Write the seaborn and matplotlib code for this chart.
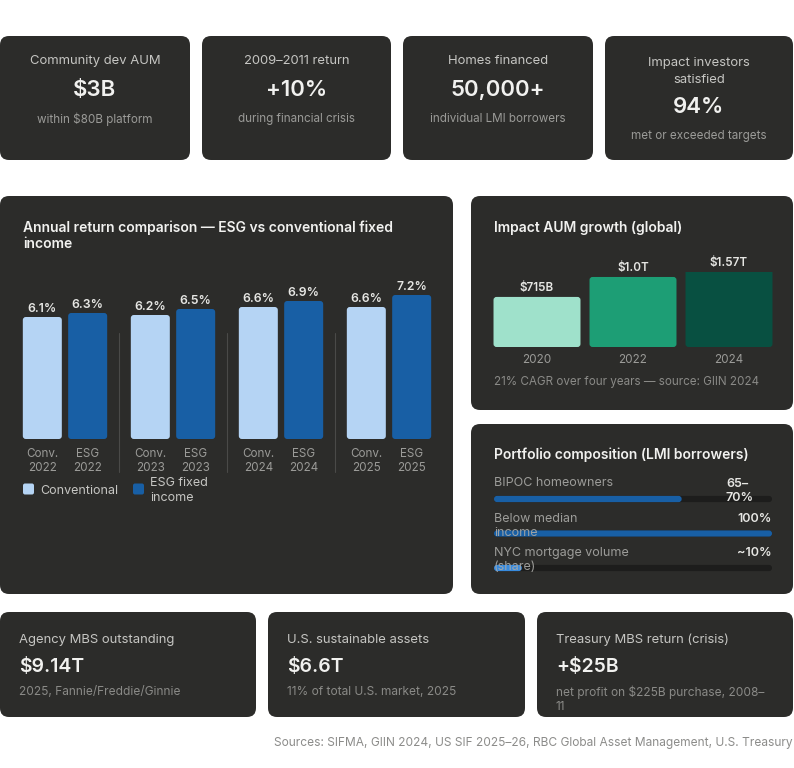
import pandas as pd
import seaborn as sns
import matplotlib.pyplot as plt
from matplotlib.patches import FancyBboxPatch
from matplotlib.transforms import IdentityTransform

# KPI cards (top row)
kpi_labels = ["Community dev AUM", "2009–2011 return", "Homes financed", "Impact investors\nsatisfied"]
kpi_values = ["$3B", "+10%", "50,000+", "94%"]
kpi_subs = ["within $80B platform", "during financial crisis", "individual LMI borrowers", "met or exceeded targets"]

# annual returns, ESG vs conventional (%)
return_years = ["2022", "2023", "2024", "2025"]
conv_returns = [6.1, 6.2, 6.6, 6.6]
esg_returns = [6.3, 6.5, 6.9, 7.2]
series_names = ["Conventional", "ESG fixed\nincome"]

# impact AUM growth ($B)
aum_years = ["2020", "2022", "2024"]
aum_values = [715, 1000, 1570]
aum_labels = ["$715B", "$1.0T", "$1.57T"]

# portfolio composition (% share)
comp_labels = ["BIPOC homeowners", "Below median\nincome", "NYC mortgage volume\n(share)"]
comp_share = [67.5, 100, 10]
comp_values = ["65–\n70%", "100%", "~10%"]

# bottom stat cards
stat_labels = ["Agency MBS outstanding", "U.S. sustainable assets", "Treasury MBS return (crisis)"]
stat_values = ["$9.14T", "$6.6T", "+$25B"]
stat_subs = ["2025, Fannie/Freddie/Ginnie", "11% of total U.S. market, 2025",
             "net profit on $225B purchase, 2008–\n11"]

sns.set_theme(style="white")
plt.rcParams['font.family'] = ['Inter', 'DejaVu Sans']

W, H = 794, 768
CARD = "#2c2c2a"
WHITE = "#f1f1ef"
LIGHT = "#c6c6c3"
GRAY = "#9b9b98"
DIM = "#8a8a87"

fig = plt.figure(figsize=(W / 100, H / 100), dpi=100)
fig.patch.set_facecolor("white")


def card(x0, y0, x1, y1):
    fig.patches.append(FancyBboxPatch((x0, H - y1), x1 - x0, y1 - y0,
                                      boxstyle="round,pad=0,rounding_size=9",
                                      fc=CARD, ec="none", transform=IdentityTransform(),
                                      figure=fig, zorder=-5))


def txt(x, y, s, **kw):
    kw.setdefault("va", "center")
    return fig.text(x / W, 1 - y / H, s, **kw)


def axes(x0, y0, x1, y1):
    ax = fig.add_axes([x0 / W, 1 - y1 / H, (x1 - x0) / W, (y1 - y0) / H])
    ax.set_facecolor("none")
    for s in ax.spines.values():
        s.set_visible(False)
    return ax


def round_bars(ax, rpx):
    # swap plain rectangles for rounded ones (corner radius in pixels)
    o = ax.transData.transform((0, 0))
    sx = abs(ax.transData.transform((1, 0))[0] - o[0])
    sy = abs(ax.transData.transform((0, 1))[1] - o[1])
    for p in list(ax.patches):
        x, y, w, h = p.get_x(), p.get_y(), p.get_width(), p.get_height()
        if w < 0:
            x, w = x + w, -w
        if h < 0:
            y, h = y + h, -h
        r = min(rpx, w * sx / 2, h * sy / 2) / sx
        ax.add_patch(FancyBboxPatch((x, y), w, h, boxstyle=f"round,pad=0,rounding_size={r}",
                                    mutation_aspect=sx / sy, fc=p.get_facecolor(),
                                    ec="none", lw=0, zorder=p.get_zorder()))
        p.remove()


# ---- top KPI cards
top_x = [(0, 190), (202, 391), (403, 593), (605, 793)]
for (x0, x1), lab, val, sub in zip(top_x, kpi_labels, kpi_values, kpi_subs):
    card(x0, 36, x1, 160)
    cx = (x0 + x1) / 2
    n = lab.count("\n")
    txt(cx, 61 + n * 10.5, lab, ha="center", color=LIGHT, fontsize=9.4, linespacing=1.55)
    txt(cx, 90 + n * 17, val, ha="center", color=WHITE, fontsize=16, fontweight="semibold")
    txt(cx, 119 + n * 17, sub, ha="center", color=GRAY, fontsize=8.4)

# ---- annual return comparison
card(0, 196, 453, 594)
txt(23, 236, "Annual return comparison — ESG vs conventional fixed\nincome",
    color=WHITE, fontsize=10, fontweight="semibold", linespacing=1.15)

df = pd.DataFrame({"year": return_years * 2,
                   "series": [series_names[0]] * 4 + [series_names[1]] * 4,
                   "ret": conv_returns + esg_returns})
ax1 = axes(11, 279, 443, 439)
conv_c, esg_c = "#b5d4f4", "#185fa5"
sns.barplot(data=df, x="year", y="ret", hue="series", palette=[conv_c, esg_c],
            width=0.84, gap=0.14, saturation=1, legend=False, linewidth=0,
            edgecolor="none", ax=ax1)
ax1.set_ylim(0, 8)
ax1.set_xlim(-0.5, 3.5)
for cont in ax1.containers:
    ax1.bar_label(cont, fmt="%.1f%%", padding=1.5, color="#e6e6e3", fontsize=8.8,
                  fontweight="semibold")
round_bars(ax1, 3)
ticks, tlabels = [], []
for i, yr in enumerate(return_years):
    ticks += [i - 0.21, i + 0.21]
    tlabels += [f"Conv.\n{yr}", f"ESG\n{yr}"]
ax1.set_xticks(ticks, tlabels)
ax1.set_yticks([])
ax1.set_xlabel("")
ax1.set_ylabel("")
ax1.tick_params(axis="x", length=0, pad=6.5, labelsize=8.4, labelcolor=GRAY)
for b in [0.5, 1.5, 2.5]:
    ax1.axvline(b, ymin=-0.206, ymax=0.66, color="#4a4a48", lw=0.8, clip_on=False)

# legend
for (sx, tx), name, col in zip([(23, 40), (133, 150)], series_names, [conv_c, esg_c]):
    fig.patches.append(FancyBboxPatch((sx, H - 494.5), 11, 11, boxstyle="round,pad=0,rounding_size=2",
                                      fc=col, ec="none", transform=IdentityTransform(), figure=fig))
    txt(tx, 490.5, name, color=LIGHT, fontsize=9, linespacing=1.25)

# ---- impact AUM growth
card(471, 196, 793, 410)
txt(494, 228, "Impact AUM growth (global)", color=WHITE, fontsize=10, fontweight="semibold")
ax2 = axes(489, 272, 777, 347)
aum_colors = ["#9fe1cb", "#1d9e75", "#085041"]
sns.barplot(x=aum_years, y=aum_values, hue=aum_years, palette=aum_colors, width=0.906,
            saturation=1, legend=False, linewidth=0, edgecolor="none", ax=ax2)
aum_cap = 1071
ax2.set_ylim(0, aum_cap)
for i, (v, lab) in enumerate(zip(aum_values, aum_labels)):
    ax2.annotate(lab, (i, min(v, aum_cap)), xytext=(0, 6.5), textcoords="offset points",
                 ha="center", va="center", color="#e6e6e3", fontsize=8.4,
                 fontweight="semibold", annotation_clip=False)
round_bars(ax2, 3)
ax2.set_yticks([])
ax2.tick_params(axis="x", length=0, pad=5, labelsize=8.4, labelcolor=GRAY)
ax2.set_xlabel("")
ax2.set_ylabel("")
txt(494, 382, "21% CAGR over four years — source: GIIN 2024", color=DIM, fontsize=8.4)

# ---- portfolio composition
card(471, 424, 793, 594)
txt(494, 455, "Portfolio composition (LMI borrowers)", color=WHITE, fontsize=10, fontweight="semibold")
ax3 = axes(494, 481.75, 772, 585.25)
ax3.barh(range(len(comp_share)), [100] * len(comp_share), height=0.18, color="#1d1d1c",
         linewidth=0)
sns.barplot(x=comp_share, y=comp_labels, hue=comp_labels, orient="h",
            palette=["#185fa5", "#185fa5", "#378add"], width=0.18, saturation=1,
            legend=False, linewidth=0, edgecolor="none", ax=ax3)
ax3.set_xlim(0, 100)
ax3.set_ylim(2.5, -0.5)
ax3.set_xticks([])
ax3.set_yticks([])
ax3.set_xlabel("")
ax3.set_ylabel("")
round_bars(ax3, 3)
bar_y = [499, 534, 568]
for by, lab, val in zip(bar_y, comp_labels, comp_values):
    n = lab.count("\n")
    txt(494, by - 15.5 + n * 7.5, lab, color="#a9a9a6", fontsize=9, linespacing=1.25, alpha=0.9)
    if "\n" in val:
        txt(726, by - 15.5 + 7.5, val, ha="left", color="#e6e6e3", fontsize=9,
            fontweight="semibold", linespacing=1.3)
    else:
        txt(772, by - 15.5, val, ha="right", color="#e6e6e3", fontsize=9, fontweight="semibold")

# ---- bottom stat cards
bot_x = [(0, 256), (268, 525), (537, 793)]
for (x0, x1), lab, val, sub in zip(bot_x, stat_labels, stat_values, stat_subs):
    card(x0, 612, x1, 717)
    tx = x0 + 19
    txt(tx, 640, lab, color=LIGHT, fontsize=9.4)
    txt(tx, 667, val, color=WHITE, fontsize=14, fontweight="semibold")
    n = sub.count("\n")
    txt(tx, 692 + n * 7.5, sub, color=DIM, fontsize=8.6, linespacing=1.2)

txt(793, 743, "Sources: SIFMA, GIIN 2024, US SIF 2025–26, RBC Global Asset Management, U.S. Treasury",
    ha="right", color="#8c8c8a", fontsize=8.6)

fig.savefig("out.png", dpi=100)
